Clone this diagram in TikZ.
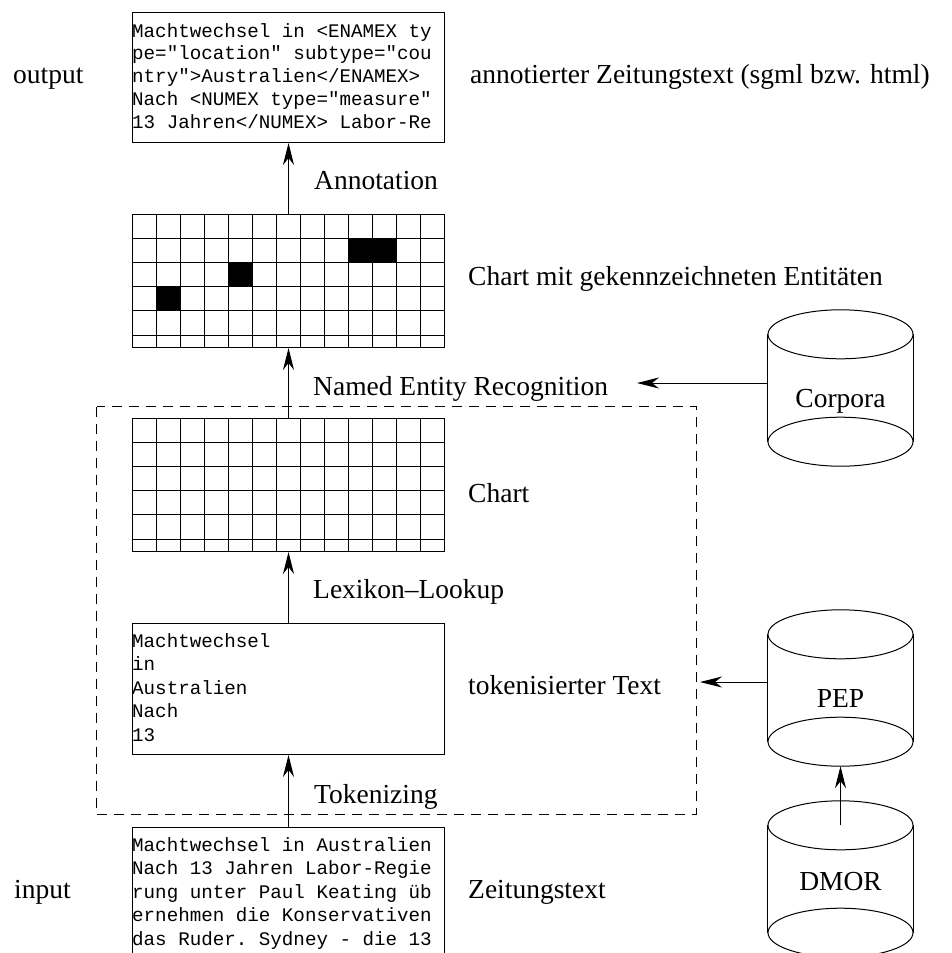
\documentclass[tikz,border=0pt]{standalone}
\usepackage{fontspec}
\setmainfont{Liberation Serif}
\setmonofont{Liberation Mono}
\usetikzlibrary{arrows.meta}

\tikzset{
  pfeil/.style={-{Stealth[length=22pt,width=11pt,inset=7pt]}, line width=1pt},
  kasten/.style={draw, line width=1pt, inner sep=0pt, anchor=north west, minimum width=312pt},
  gitter/.style={line width=0.9pt},
  zylinder/.style={inner sep=0pt, minimum width=145pt, minimum height=107pt},
  beschr/.style={font=\fontsize{27.5}{33}\selectfont, anchor=base west, inner sep=0pt},
  mono/.style={font=\ttfamily\fontsize{19.2}{23}\selectfont, anchor=base west, inner sep=0pt},
}

\begin{document}
\begin{tikzpicture}[x=1pt,y=-1pt]
    \useasboundingbox (0,0) rectangle (951,953);
    \clip (0,0) rectangle (951,953);

    % Kaesten
    \node[kasten, minimum height=130pt] (ausgabe) at (132,12) {};
    \node[kasten, minimum height=133pt] (chartne) at (132,214) {};
    \node[kasten, minimum height=133pt] (chart) at (132,418) {};
    \node[kasten, minimum height=131pt] (token) at (132,623) {};
    \node[kasten, minimum height=160pt] (eingabe) at (132,827) {};

    % Texte in den Kaesten
    \foreach \zeile [count=\i] in {Machtwechsel in <ENAMEX ty, pe="location" subtype="cou,
        ntry">Australien</ENAMEX>, Nach <NUMEX type="measure", 13 Jahren</NUMEX> Labor-Re}
      \node[mono] (ausgabe-\i) at (132,{37+22.8*(\i-1)}) {\zeile};
    \foreach \zeile [count=\i] in {Machtwechsel, in, Australien, Nach, 13}
      \node[mono] (token-\i) at (132,{647+23.6*(\i-1)}) {\zeile};
    \foreach \zeile [count=\i] in {Machtwechsel in Australien, Nach 13 Jahren Labor-Regie,
        rung unter Paul Keating üb, ernehmen die Konservativen, das Ruder. Sydney - die 13}
      \node[mono] (eingabe-\i) at (132,{851+23.5*(\i-1)}) {\zeile};

    % Gitter
    \foreach \i in {1,...,12} {
      \draw[gitter] ({132+24*\i},214) -- ({132+24*\i},347);
      \draw[gitter] ({132+24*\i},418) -- ({132+24*\i},551);
    }
    \foreach \j in {1,...,5} {
      \draw[gitter] (132,{214+24.2*\j}) -- (444,{214+24.2*\j});
      \draw[gitter] (132,{418+24.2*\j}) -- (444,{418+24.2*\j});
    }
    \fill (348,238.2) rectangle (396,262.4);
    \fill (228,262.4) rectangle (252,286.6);
    \fill (156,286.6) rectangle (180,310.8);

    % gestrichelter Rahmen
    \draw[line width=1pt, dash pattern=on 10pt off 7pt] (96.5,406.5) rectangle (696,814);

    % Zylinder
    \node[zylinder] (corpora) at (840.5,388) {};
    \node[zylinder] (pep) at (840.5,688) {};
    \node[zylinder] (dmor) at (840.5,879) {};
    \foreach \z in {corpora,pep,dmor} {
      \draw[line width=1pt] (\z.north) ellipse (72.5 and 24.5);
      \draw[line width=1pt] (\z.south) ellipse (72.5 and 24.5);
      \draw[line width=1pt] (\z.north west) -- (\z.south west) (\z.north east) -- (\z.south east);
    }
    \node[beschr, anchor=base] (corpora-t) at (840.5,407) {Corpora};
    \node[beschr, anchor=base] (pep-t) at (840.5,707) {PEP};
    \node[beschr, anchor=base] (dmor-t) at (840.5,890) {DMOR};

    % Beschriftungen
    \node[beschr] (output) at (13,83) {output};
    \node[beschr] (input) at (14,898) {input};
    \node[beschr] (ausgabe-l) at (470,83) {annotierter Zeitungstext (sgml bzw. html)};
    \node[beschr] (annot) at (314,189) {Annotation};
    \node[beschr] (chartne-l) at (468,285) {Chart mit gekennzeichneten Entitäten};
    \node[beschr] (ner) at (313,395) {Named Entity Recognition};
    \node[beschr] (chart-l) at (468,502) {Chart};
    \node[beschr] (lookup) at (313,598) {Lexikon--Lookup};
    \node[beschr] (token-l) at (468,694) {tokenisierter Text};
    \node[beschr] (tokenizing) at (314,803) {Tokenizing};
    \node[beschr] (eingabe-l) at (468,898) {Zeitungstext};

    % Pfeile
    \coordinate (ner-ziel) at (637,383);
    \coordinate (token-ziel) at (700,682);
    \draw[pfeil] (chartne.north) -- (ausgabe.south);
    \draw[pfeil] (chart.north) -- (chartne.south);
    \draw[pfeil] (token.north) -- (chart.south);
    \draw[pfeil] (eingabe.north) -- (token.south);
    \draw[pfeil] (corpora.west |- ner-ziel) -- (ner-ziel);
    \draw[pfeil] (pep.west |- token-ziel) -- (token-ziel);
    \draw[pfeil] (dmor.north) -- ([yshift=-24.5pt]pep.south);
  \end{tikzpicture}
\end{document}
